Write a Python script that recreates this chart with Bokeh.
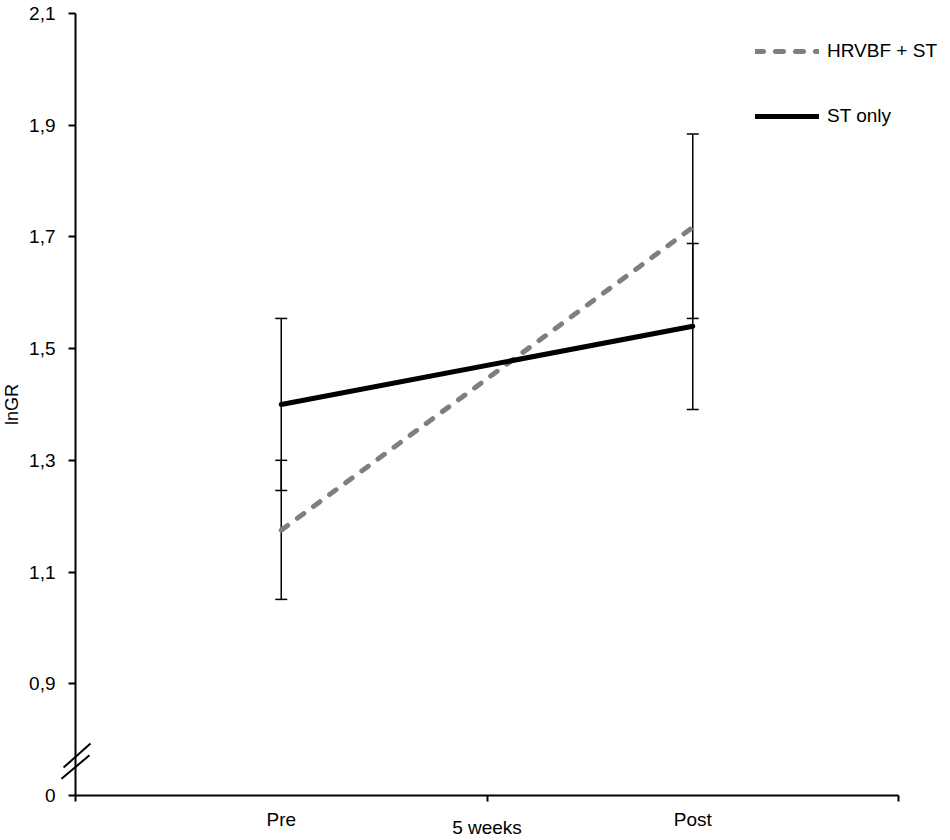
from bokeh.plotting import figure
from bokeh.models import (ColumnDataSource, Whisker, TeeHead, FixedTicker, LinearAxis,
                          CustomJSTickFormatter, Legend, LegendItem, Range1d)
from bokeh.embed import file_html
from bokeh.resources import INLINE

# ---- data ----
time_labels = ["Pre", "Post"]
time_pos = [1, 3]
x_tick_marks = [0, 2, 4]
x_axis_title = "5 weeks"
y_ticks = [0.7, 0.9, 1.1, 1.3, 1.5, 1.7, 1.9, 2.1]
y_tick_labels = ["0", "0,9", "1,1", "1,3", "1,5", "1,7", "1,9", "2,1"]
y_axis_title = "lnGR"

series_names = ["HRVBF + ST", "ST only"]
hrvbf_mean = [1.175, 1.717]
hrvbf_lower = [1.051, 1.554]
hrvbf_upper = [1.300, 1.884]
st_mean = [1.400, 1.540]
st_lower = [1.246, 1.391]
st_upper = [1.554, 1.688]

# axis-break decoration (two short diagonal strokes across the y axis)
break_x0 = [-0.058, -0.068]
break_y0 = [0.750, 0.730]
break_x1 = [0.073, 0.068]
break_y1 = [0.793, 0.772]

FONT = "Liberation Sans"
FS = "19px"

p = figure(width=950, height=840, output_backend="svg", toolbar_location=None,
           x_range=Range1d(-0.3645, 4.2527), y_range=Range1d(0.6194, 2.1232),
           x_axis_location=None, y_axis_location=None, min_border=0,
           min_border_left=0, min_border_right=0, min_border_top=0, min_border_bottom=0)
p.outline_line_color = None
p.xgrid.visible = False
p.ygrid.visible = False
p.background_fill_color = "white"

label_code = """
let best = 0;
for (let i = 0; i < tvals.length; i++) {
  if (Math.abs(tvals[i] - tick) < Math.abs(tvals[best] - tick)) best = i;
}
return tlabels[best];
"""

# y axis
yaxis = LinearAxis(ticker=FixedTicker(ticks=y_ticks),
                   formatter=CustomJSTickFormatter(args=dict(tvals=y_ticks, tlabels=y_tick_labels), code=label_code),
                   fixed_location=0, bounds=(y_ticks[0], y_ticks[-1]), axis_label=y_axis_title)
yaxis.axis_line_width = 2
yaxis.axis_line_color = "black"
yaxis.major_tick_line_width = 2
yaxis.major_tick_line_color = "black"
yaxis.major_tick_out = 7
yaxis.major_tick_in = 0
yaxis.minor_tick_out = 0
yaxis.minor_tick_in = 0
yaxis.major_label_standoff = 13
yaxis.major_label_text_font = FONT
yaxis.major_label_text_font_size = FS
yaxis.major_label_text_color = "black"
yaxis.axis_label_text_font = FONT
yaxis.axis_label_text_font_size = "18px"
yaxis.axis_label_text_font_style = "normal"
yaxis.axis_label_text_color = "black"
yaxis.axis_label_standoff = 4
p.add_layout(yaxis, "left")

# x axis: category labels (no tick marks)
xlab = LinearAxis(ticker=FixedTicker(ticks=time_pos),
                  formatter=CustomJSTickFormatter(args=dict(tvals=time_pos, tlabels=time_labels), code=label_code),
                  fixed_location=y_ticks[0])
xlab.axis_line_color = None
xlab.major_tick_out = 0
xlab.major_tick_in = 0
xlab.minor_tick_out = 0
xlab.minor_tick_in = 0
xlab.major_label_standoff = 14
xlab.major_label_text_font = FONT
xlab.major_label_text_font_size = FS
xlab.major_label_text_color = "black"
p.add_layout(xlab, "below")

# x axis: line, tick marks between categories, title
xline = LinearAxis(ticker=FixedTicker(ticks=x_tick_marks),
                   formatter=CustomJSTickFormatter(code="return '';"),
                   fixed_location=y_ticks[0], bounds=(x_tick_marks[0], x_tick_marks[-1]),
                   axis_label=x_axis_title)
xline.axis_line_width = 2
xline.axis_line_color = "black"
xline.major_tick_line_width = 2
xline.major_tick_line_color = "black"
xline.major_tick_out = 6
xline.major_tick_in = 0
xline.minor_tick_out = 0
xline.minor_tick_in = 0
xline.major_label_standoff = 0
xline.major_label_text_font_size = "1px"
xline.axis_label_text_font = FONT
xline.axis_label_text_font_size = FS
xline.axis_label_text_font_style = "normal"
xline.axis_label_text_color = "black"
xline.axis_label_standoff = 15
p.add_layout(xline, "below")

# error bars
for lo, up in [(hrvbf_lower, hrvbf_upper), (st_lower, st_upper)]:
    src = ColumnDataSource(dict(x=time_pos, lower=lo, upper=up))
    w = Whisker(base="x", lower="lower", upper="upper", source=src,
                line_color="black", line_width=1.5,
                upper_head=TeeHead(size=12, line_width=1.5, line_color="black"),
                lower_head=TeeHead(size=12, line_width=1.5, line_color="black"))
    p.add_layout(w)

# series lines
r_h = p.line(time_pos, hrvbf_mean, line_color="#7f7f7f", line_width=5,
             line_dash="8 12", line_cap="round")
r_s = p.line(time_pos, st_mean, line_color="black", line_width=5, line_cap="round")

# axis break marks
p.segment(break_x0, break_y0, break_x1, break_y1, line_color="black", line_width=2)

legend = Legend(items=[LegendItem(label=series_names[0], renderers=[r_h]),
                       LegendItem(label=series_names[1], renderers=[r_s])],
                location=(755, 713), padding=0, margin=0, spacing=43,
                glyph_width=64, glyph_height=22, label_height=22, label_standoff=8,
                border_line_color=None, background_fill_alpha=0,
                label_text_font=FONT, label_text_font_size="19px", label_text_color="black")
p.add_layout(legend)

open("out.html", "w").write(file_html(p, INLINE))
